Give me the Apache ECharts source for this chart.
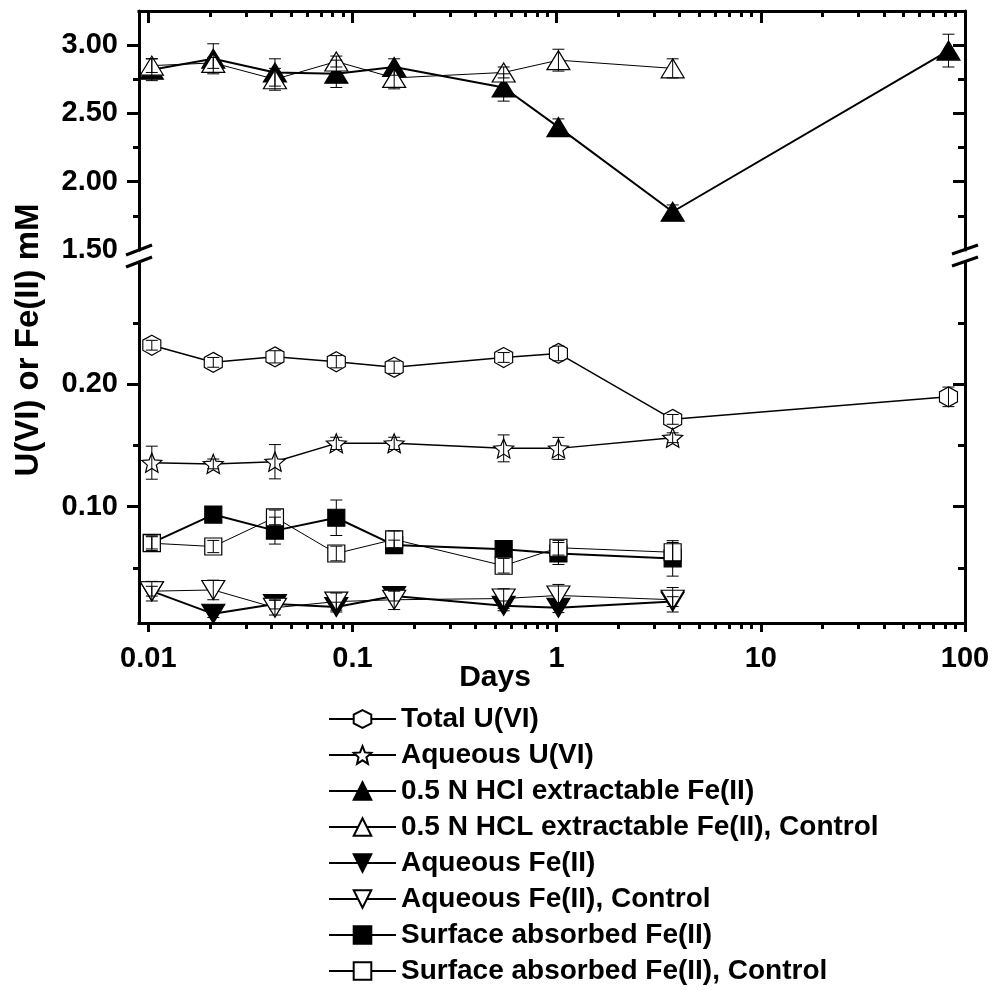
<!DOCTYPE html>
<html><head><meta charset="utf-8">
<script src="https://cdn.jsdelivr.net/npm/echarts@6/dist/echarts.min.js"></script>
<style>html,body{margin:0;padding:0;background:#fff}#c{width:995px;height:990px}</style>
</head><body><div id="c"></div>
<script>
// ---------------- data ----------------
const days = [0.0104, 0.0208, 0.0417, 0.0833, 0.16, 0.55, 1.02, 3.7, 83];

const totalU      = [0.232, 0.218, 0.2225, 0.2185, 0.214, 0.222, 0.2253, 0.1714, 0.1898];
const totalUErr   = [0.004, 0.004, 0.005, 0.005, 0.005, 0.004, 0.006, 0.004, 0.008];
const aqU         = [0.136, 0.135, 0.1368, 0.1518, 0.1518, 0.1477, 0.1477, 0.1564];
const aqUErr      = [0.0135, 0.004, 0.014, 0.005, 0.005, 0.011, 0.009, 0.004];
const hclFe       = [2.82, 2.90, 2.80, 2.79, 2.84, 2.69, 2.40, 1.78, 2.96];
const hclFeErr    = [0.08, 0.11, 0.10, 0.10, 0.06, 0.10, 0.06, 0.05, 0.12];
const hclFeCtl    = [2.85, 2.87, 2.75, 2.88, 2.76, 2.80, 2.89, 2.83];
const hclFeCtlErr = [0.05, 0.04, 0.08, 0.04, 0.08, 0.04, 0.08, 0.07];
const aqFe        = [0.031, 0.0125, 0.0205, 0.018, 0.027, 0.019, 0.0175, 0.0225];
const aqFeErr     = [0.004, 0.003, 0.004, 0.004, 0.004, 0.004, 0.004, 0.004];
const aqFeCtl     = [0.031, 0.032, 0.0175, 0.0225, 0.024, 0.025, 0.0275, 0.024];
const aqFeCtlErr  = [0.008, 0.008, 0.006, 0.007, 0.008, 0.008, 0.009, 0.010];
const surfFe      = [0.0705, 0.0936, 0.0805, 0.091, 0.0687, 0.0653, 0.0618, 0.0578];
const surfFeErr   = [0.005, 0.004, 0.011, 0.0145, 0.004, 0.005, 0.009, 0.0145];
const surfFeCtl   = [0.0702, 0.0675, 0.0913, 0.0618, 0.0733, 0.0518, 0.0665, 0.0628];
const surfFeCtlErr= [0.006, 0.005, 0.006, 0.006, 0.007, 0.006, 0.006, 0.008];

const seriesNames = [
  'Total U(VI)', 'Aqueous U(VI)', '0.5 N HCl extractable Fe(II)',
  '0.5 N HCL extractable Fe(II), Control', 'Aqueous Fe(II)', 'Aqueous Fe(II), Control',
  'Surface absorbed Fe(II)', 'Surface absorbed Fe(II), Control'
];

const xMajor = [0.01, 0.1, 1, 10, 100];
const xMajorLabels = ['0.01', '0.1', '1', '10', '100'];
const xMinor = [];
for (const d of [0.01, 0.1, 1, 10]) for (let k = 2; k <= 9; k++) xMinor.push(+(d * k).toPrecision(3));

const yUpMajor = [1.5, 2.0, 2.5, 3.0];
const yUpMajorLabels = ['1.50', '2.00', '2.50', '3.00'];
const yUpMinor = [1.75, 2.25, 2.75];
const yLowMajor = [0.1, 0.2];
const yLowMajorLabels = ['0.10', '0.20'];
const yLowMinor = [0.05, 0.15, 0.25];

const X_MIN = 0.009, X_MAX = 100;
const Y_UP = [1.5, 3.25];
const Y_LOW = [0.005, 0.30];

// ---------------- styling ----------------
const FONT = '"Liberation Sans", Arial, Helvetica, sans-serif';
const HEX = 'path://M0,-10L8.66,-5L8.66,5L0,10L-8.66,5L-8.66,-5Z';
const STAR = 'path://M0,-10L2.645,-3.641L9.511,-3.09L4.28,1.391L5.878,8.09L0,4.5L-5.878,8.09L-4.28,1.391L-9.511,-3.09L-2.645,-3.641Z';
const DOWN = 'path://M-10,-8.66L10,-8.66L0,8.66Z';

function lab(vals, labels) {
  return (v) => {
    let best = 0, bd = Infinity;
    vals.forEach((t, i) => { const d = Math.abs(Math.log(t) - Math.log(v)); if (d < bd) { bd = d; best = i; } });
    return labels[best];
  };
}

function xAx(grid, pos, ticks, len, inside, showLine, withLabels) {
  return {
    type: 'log', logBase: 10, gridIndex: grid, position: pos, min: X_MIN, max: X_MAX,
    axisLine: { show: showLine, onZero: false, lineStyle: { color: '#000', width: 3, cap: 'square' } },
    axisTick: { show: true, inside: inside, length: len, customValues: ticks, lineStyle: { color: '#000', width: 3 } },
    minorTick: { show: false },
    axisLabel: withLabels ? {
      show: true, customValues: xMajor, formatter: lab(xMajor, xMajorLabels),
      fontSize: 29, fontWeight: 'bold', fontFamily: FONT, color: '#000', margin: 21
    } : { show: false },
    splitLine: { show: false }, axisPointer: { show: false }
  };
}
function yAx(grid, pos, ext, ticks, len, inside, showLine, labVals, labTexts) {
  return {
    type: 'value', gridIndex: grid, position: pos, min: ext[0], max: ext[1],
    axisLine: { show: showLine, onZero: false, lineStyle: { color: '#000', width: 3 } },
    axisTick: { show: true, inside: inside, length: len, customValues: ticks, lineStyle: { color: '#000', width: 3 } },
    minorTick: { show: false },
    axisLabel: labVals ? {
      show: true, customValues: labVals,
      formatter: (v) => { let b = 0; labVals.forEach((t, i) => { if (Math.abs(t - v) < Math.abs(labVals[b] - v)) b = i; }); return labTexts[b]; },
      fontSize: 29, fontWeight: 'bold', fontFamily: FONT, color: '#000', margin: 21
    } : { show: false },
    splitLine: { show: false }, axisPointer: { show: false }
  };
}

function lineSeries(name, vals, upper, symbol, size, filled, lw) {
  return {
    type: 'line', name: name,
    xAxisIndex: upper ? 0 : 2, yAxisIndex: upper ? 0 : 4,
    data: vals.map((v, i) => [days[i], v]),
    symbol: symbol, symbolSize: size, showAllSymbol: true, clip: false,
    lineStyle: { color: '#000', width: lw },
    itemStyle: { color: filled ? '#000' : '#fff', borderColor: '#000', borderWidth: 1.2 },
    emphasis: { disabled: true }, z: 3
  };
}
function errSeries(vals, errs, upper) {
  return {
    type: 'custom', silent: true, clip: false,
    xAxisIndex: upper ? 0 : 2, yAxisIndex: upper ? 0 : 4,
    data: vals.map((v, i) => [days[i], v, errs[i]]),
    encode: { x: 0, y: 1 },
    renderItem: (params, api) => {
      const x = api.value(0), y = api.value(1), e = api.value(2);
      const t = api.coord([x, y + e]), b = api.coord([x, y - e]);
      const h = 6, st = { stroke: '#000', lineWidth: 1 };
      return { type: 'group', children: [
        { type: 'line', shape: { x1: t[0], y1: t[1], x2: b[0], y2: b[1] }, style: st },
        { type: 'line', shape: { x1: t[0] - h, y1: t[1], x2: t[0] + h, y2: t[1] }, style: st },
        { type: 'line', shape: { x1: b[0] - h, y1: b[1], x2: b[0] + h, y2: b[1] }, style: st }
      ] };
    },
    z: 4
  };
}

const series = [
  lineSeries(seriesNames[0], totalU, false, HEX, [18, 20], false, 1.5),
  lineSeries(seriesNames[1], aqU, false, STAR, [20, 19], false, 1.5),
  lineSeries(seriesNames[2], hclFe, true, 'triangle', [23, 19], true, 2),
  lineSeries(seriesNames[3], hclFeCtl, true, 'triangle', [23, 19], false, 1),
  lineSeries(seriesNames[4], aqFe, false, DOWN, [23, 19], true, 2),
  lineSeries(seriesNames[5], aqFeCtl, false, DOWN, [23, 19], false, 1),
  lineSeries(seriesNames[6], surfFe, false, 'rect', [17, 17], true, 2),
  lineSeries(seriesNames[7], surfFeCtl, false, 'rect', [17, 17], false, 1),
  errSeries(totalU, totalUErr, false),
  errSeries(aqU, aqUErr, false),
  errSeries(hclFe, hclFeErr, true),
  errSeries(hclFeCtl, hclFeCtlErr, true),
  errSeries(aqFe, aqFeErr, false),
  errSeries(aqFeCtl, aqFeCtlErr, false),
  errSeries(surfFe, surfFeErr, false),
  errSeries(surfFeCtl, surfFeCtlErr, false)
];

const brk = (x1, y1, x2, y2) => ({ type: 'line', silent: true, z: 100,
  shape: { x1, y1, x2, y2 }, style: { stroke: '#000', lineWidth: 3 } });

const option = {
  animation: false,
  backgroundColor: '#fff',
  grid: [
    { left: 139, right: 30, top: 11, height: 239, containLabel: false, outerBoundsMode: 'none' },
    { left: 139, right: 30, top: 262, height: 361, containLabel: false, outerBoundsMode: 'none' }
  ],
  xAxis: [
    xAx(0, 'top', xMajor, 12, true, true, false),
    xAx(0, 'top', xMinor, 6, true, false, false),
    xAx(1, 'bottom', xMajor, 9, false, true, true),
    xAx(1, 'bottom', xMinor, 6, false, false, false)
  ],
  yAxis: [
    yAx(0, 'left', Y_UP, [2.0, 2.5, 3.0], 12, false, true, yUpMajor, yUpMajorLabels),
    yAx(0, 'left', Y_UP, yUpMinor, 6, false, false, null),
    yAx(0, 'right', Y_UP, [2.0, 2.5, 3.0], 12, true, true, null),
    yAx(0, 'right', Y_UP, yUpMinor, 7, true, false, null),
    yAx(1, 'left', Y_LOW, yLowMajor, 12, false, true, yLowMajor, yLowMajorLabels),
    yAx(1, 'left', Y_LOW, yLowMinor, 6, false, false, null),
    yAx(1, 'right', Y_LOW, yLowMajor, 12, true, true, null),
    yAx(1, 'right', Y_LOW, yLowMinor, 7, true, false, null)
  ],
  legend: {
    orient: 'vertical', left: 328, top: 704, padding: 0,
    itemWidth: 67, itemHeight: 22, itemGap: 6,
    selectedMode: false, data: seriesNames,
    textStyle: { fontSize: 28, fontWeight: 'bold', fontFamily: FONT, color: '#000', lineHeight: 30 }
  },
  graphic: [
    { type: 'text', x: 29, y: 340, rotation: Math.PI / 2, silent: true,
      style: { text: 'U(VI) or Fe(II) mM', fontSize: 33, fontWeight: 'bold', fontFamily: FONT,
               fill: '#000', align: 'center', verticalAlign: 'middle' } },
    { type: 'text', x: 495, y: 678, silent: true,
      style: { text: 'Days', fontSize: 30, fontWeight: 'bold', fontFamily: FONT,
               fill: '#000', align: 'center', verticalAlign: 'middle' } },
    brk(126, 255, 152, 245), brk(126, 267, 152, 257),
    brk(952, 254, 978, 245), brk(952, 266, 978, 257)
  ],
  series: series
};

const chart = echarts.init(document.getElementById('c'), null, { renderer: 'canvas' });
chart.setOption(option);
</script>
</body></html>
